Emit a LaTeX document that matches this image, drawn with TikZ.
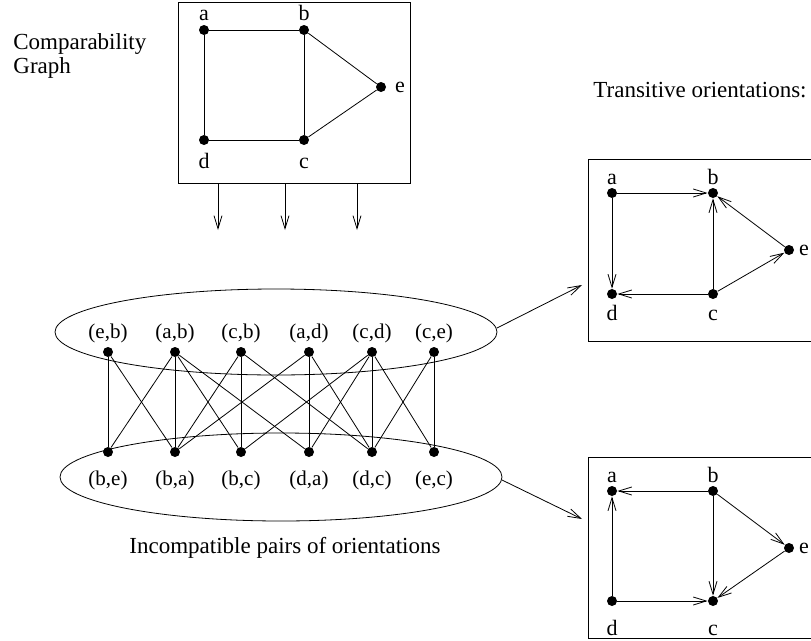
\documentclass[tikz,border=0pt]{standalone}
\usepackage{fontspec}
\setmainfont{Liberation Serif}
\usetikzlibrary{arrows.meta,shapes.geometric}
\begin{document}
\begin{tikzpicture}[x=1pt,y=-1pt, line width=0.8pt,
  dot/.style={circle,fill,inner sep=0pt,minimum size=10pt},
  lbl/.style={font=\fontsize{22}{24}\selectfont, inner sep=0pt, anchor=base},
  plbl/.style={font=\fontsize{21}{24}\selectfont, inner sep=0pt, anchor=base},
  ttl/.style={font=\fontsize{23}{24}\selectfont, inner sep=0pt, anchor=base west},
  arr/.style={-{Straight Barb[length=13pt,width=8pt,line width=0.8pt]}},
  frame/.style={draw,rectangle,inner sep=0pt},
  oval/.style={draw,ellipse,inner sep=0pt}
]
\useasboundingbox (0,0) rectangle (811,640);

% ---------- Comparability graph ----------
\node[ttl] (t1) at (13,49) {Comparability};
\node[ttl] (t2) at (13,73) {Graph};
\node[frame,minimum width=232pt,minimum height=181pt] (G) at (294,92.5) {};
\node[dot] (ga) at (204,30) {};
\node[dot] (gb) at (304,30) {};
\node[dot] (ge) at (381,87) {};
\node[dot] (gd) at (204,140) {};
\node[dot] (gc) at (304,140) {};
\node[lbl] (la) at (204,20) {a};
\node[lbl] (lb) at (304,20) {b};
\node[lbl] (le) at (400,92) {e};
\node[lbl] (ld) at (204,168) {d};
\node[lbl] (lc) at (304,168) {c};
\draw (ga) -- (gb) -- (gc) -- (gd) -- (ga);
\draw (gb) -- (ge) -- (gc);

\coordinate (s1) at (218,183); \coordinate (e1) at (218,230);
\coordinate (s2) at (285,183); \coordinate (e2) at (285,230);
\coordinate (s3) at (357,183); \coordinate (e3) at (357,230);
\draw[arr] (s1) -- (e1);
\draw[arr] (s2) -- (e2);
\draw[arr] (s3) -- (e3);

% ---------- Incompatibility graph ----------
\node[oval,minimum width=442pt,minimum height=86pt] (E1) at (276,332) {};
\node[oval,minimum width=442pt,minimum height=88pt] (E2) at (281,477) {};

\foreach \n/\x/\t in {1/108/{(e,b)},2/175/{(a,b)},3/241/{(c,b)},4/309/{(a,d)},5/372/{(c,d)},6/434/{(c,e)}}{
  \node[dot] (U\n) at (\x,352) {};
  \node[plbl] (UL\n) at (\x,338) {\t};
}
\foreach \n/\x/\t in {1/108/{(b,e)},2/175/{(b,a)},3/241/{(b,c)},4/309/{(d,a)},5/372/{(d,c)},6/434/{(e,c)}}{
  \node[dot] (L\n) at (\x,452) {};
  \node[plbl] (LL\n) at (\x,485) {\t};
}
\foreach \u/\l in {1/1,1/2,2/1,2/2,2/3,2/4,3/2,3/3,3/5,4/2,4/4,4/5,5/3,5/4,5/5,5/6,6/5,6/6}{
  \draw (U\u) -- (L\l);
}
\node[ttl,anchor=base] (inc) at (285,553) {Incompatible pairs of orientations};

% ---------- Transitive orientations ----------
\node[ttl] (tt) at (593,97) {Transitive orientations:};
\coordinate (a1s) at (497,328); \coordinate (a1e) at (582,285);
\coordinate (a2s) at (502,480); \coordinate (a2e) at (582,519);
\draw[arr] (a1s) -- (a1e);
\draw[arr] (a2s) -- (a2e);

% first orientation
\node[frame,minimum width=250pt,minimum height=182pt] (R1) at (713,250) {};
\node[dot] (pa) at (612,193) {};
\node[dot] (pb) at (713,193) {};
\node[dot] (pe) at (789,250) {};
\node[dot] (pd) at (612,294) {};
\node[dot] (pc) at (713,294) {};
\node[lbl] (pla) at (612,184) {a};
\node[lbl] (plb) at (713,184) {b};
\node[lbl] (ple) at (804,255) {e};
\node[lbl] (pld) at (612,320) {d};
\node[lbl] (plc) at (713,320) {c};
\draw[arr] (pa) -- (pb);
\draw[arr] (pa) -- (pd);
\draw[arr] (pc) -- (pd);
\draw[arr] (pc) -- (pb);
\draw[arr] (pc) -- (pe);
\draw[arr] (pe) -- (pb);

% second orientation
\node[frame,minimum width=250pt,minimum height=181pt] (R2) at (713,547.5) {};
\node[dot] (qa) at (612,491) {};
\node[dot] (qb) at (713,491) {};
\node[dot] (qe) at (789,548) {};
\node[dot] (qd) at (612,601) {};
\node[dot] (qc) at (713,601) {};
\node[lbl] (qla) at (612,482) {a};
\node[lbl] (qlb) at (713,482) {b};
\node[lbl] (qle) at (804,553) {e};
\node[lbl] (qld) at (612,635) {d};
\node[lbl] (qlc) at (713,635) {c};
\draw[arr] (qb) -- (qa);
\draw[arr] (qd) -- (qa);
\draw[arr] (qd) -- (qc);
\draw[arr] (qb) -- (qc);
\draw[arr] (qb) -- (qe);
\draw[arr] (qe) -- (qc);
\end{tikzpicture}
\end{document}
